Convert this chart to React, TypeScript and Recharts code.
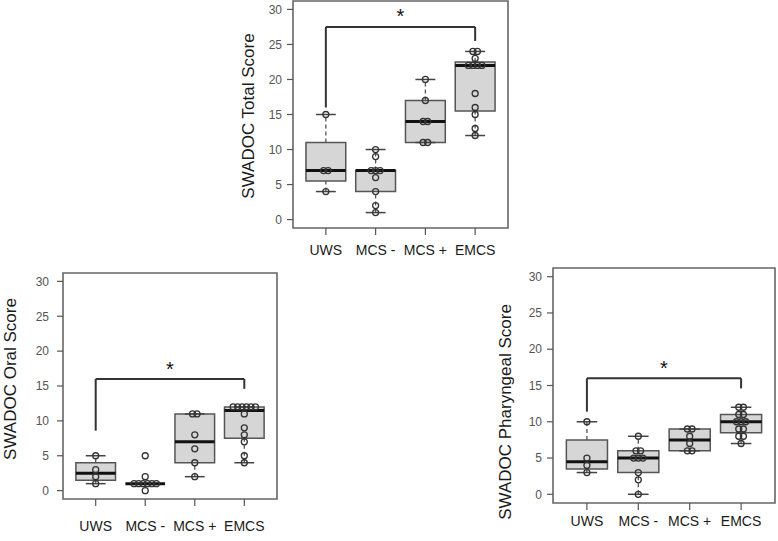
import React from 'react';
import {
  ComposedChart,
  XAxis,
  YAxis,
  Scatter,
  ReferenceArea,
  ReferenceLine,
} from 'recharts';

const GROUPS = ['UWS', 'MCS -', 'MCS +', 'EMCS'];
const Y_TICKS = [0, 5, 10, 15, 20, 25, 30];

// SWADOC total score per group
const totalUWS = [4, 7, 7, 15];
const totalMCSminus = [1, 2, 4, 6, 7, 7, 7, 9, 10];
const totalMCSplus = [11, 11, 14, 14, 17, 20];
const totalEMCS = [12, 13, 15, 16, 18, 22, 22, 22, 22, 23, 24, 24];

// oral score
const oralUWS = [1, 2, 3, 5];
const oralMCSminus = [0, 1, 1, 1, 1, 1, 1, 2, 5];
const oralMCSplus = [2, 4, 6, 8, 11, 11];
const oralEMCS = [4, 5, 7, 8, 9, 11, 12, 12, 12, 12, 12, 12];

// pharyngeal score
const pharUWS = [3, 4, 5, 10];
const pharMCSminus = [0, 2, 3, 5, 5, 5, 6, 6, 8];
const pharMCSplus = [6, 6, 7, 8, 9, 9];
const pharEMCS = [7, 8, 8, 9, 9, 10, 10, 10, 11, 11, 12, 12];

// significance bracket: [left foot, top, right foot], star height
const totalBracket = [16, 27.5, 25.5];
const totalStar = 29.6;
const oralBracket = [8.6, 16, 14.6];
const oralStar = 18;
const pharBracket = [11.4, 16, 14.6];
const pharStar = 18;

const FONT = '"Liberation Sans", Arial, Helvetica, sans-serif';
const X_DOMAIN = [0.34, 4.66];
const Y_DOMAIN = [-1.2, 31.2];

// R-style fivenum (Tukey hinges)
function fivenum(vals: number[]) {
  const s = [...vals].sort((a, b) => a - b);
  const n = s.length;
  const n4 = Math.floor((n + 3) / 2) / 2;
  const d = [1, n4, (n + 1) / 2, n + 1 - n4, n];
  return d.map((v) => 0.5 * (s[Math.floor(v) - 1] + s[Math.ceil(v) - 1]));
}

function boxStats(vals: number[]) {
  const [, q1, med, q3] = fivenum(vals);
  const iqr = q3 - q1;
  const inside = vals.filter((v) => v >= q1 - 1.5 * iqr && v <= q3 + 1.5 * iqr);
  return { q1, med, q3, lo: Math.min(...inside), hi: Math.max(...inside) };
}

// spread tied values sideways so they stay visible
function spreadPoints(groups: number[][]) {
  const pts: { x: number; y: number }[] = [];
  groups.forEach((vals, i) => {
    const counts: Record<number, number> = {};
    vals.forEach((v) => (counts[v] = (counts[v] || 0) + 1));
    const seen: Record<number, number> = {};
    vals.forEach((v) => {
      const k = seen[v] || 0;
      seen[v] = k + 1;
      pts.push({ x: i + 1 + (k - (counts[v] - 1) / 2) * 0.09, y: v });
    });
  });
  return pts;
}

const PointShape = (props: any) => (
  <circle cx={props.cx} cy={props.cy} r={3} fill="none" stroke="#333" strokeWidth={1.3} />
);

const StarShape = (props: any) => (
  <text
    x={props.cx}
    y={props.cy + 11}
    textAnchor="middle"
    fontSize={20}
    fontFamily={FONT}
    fill="#111"
  >
    *
  </text>
);

interface PanelProps {
  data: number[][];
  bracket: number[];
  star: number;
  label: string;
  plot: { x: number; y: number; w: number; h: number };
  labelPos: { x: number; y: number };
  xTickMargin: number;
  yTickMargin: number;
}

const Panel: React.FC<PanelProps> = ({ data, bracket, star, label, plot, labelPos, xTickMargin, yTickMargin }) => {
  const stats = data.map(boxStats);
  const points = spreadPoints(data);
  const W = plot.w + 70;
  const H = plot.h + 60;

  return (
    <>
      <div style={{ position: 'absolute', left: plot.x - 60, top: plot.y - 10 }}>
        <ComposedChart width={W} height={H} margin={{ top: 10, right: 10, bottom: 10, left: 10 }}>
          <XAxis
            type="number"
            dataKey="x"
            domain={X_DOMAIN}
            allowDataOverflow
            ticks={[1, 2, 3, 4]}
            interval={0}
            tickFormatter={(v: number) => GROUPS[v - 1]}
            height={40}
            axisLine={false}
            stroke="#555"
            tickSize={7}
            tickMargin={xTickMargin}
            tickLine={{ stroke: '#555', strokeWidth: 1.2 }}
            tick={{ fontSize: 14, fill: '#1a1a1a', fontFamily: FONT }}
          />
          <YAxis
            type="number"
            dataKey="y"
            domain={Y_DOMAIN}
            allowDataOverflow
            ticks={Y_TICKS}
            interval={0}
            width={50}
            axisLine={false}
            stroke="#555"
            tickSize={6}
            tickMargin={yTickMargin}
            tickLine={{ stroke: '#555', strokeWidth: 1.2 }}
            tick={{ fontSize: 12, fill: '#555', fontFamily: FONT }}
          />
          <ReferenceArea
            x1={X_DOMAIN[0]}
            x2={X_DOMAIN[1]}
            y1={Y_DOMAIN[0]}
            y2={Y_DOMAIN[1]}
            fill="none"
            fillOpacity={0}
            stroke="#666"
            strokeWidth={1.6}
          />
          {stats.map((s, i) => (
            <ReferenceLine
              key={`wu${i}`}
              segment={[{ x: i + 1, y: s.q3 }, { x: i + 1, y: s.hi }]}
              stroke="#555"
              strokeWidth={1.3}
              strokeDasharray="4 3"
            />
          ))}
          {stats.map((s, i) => (
            <ReferenceLine
              key={`wl${i}`}
              segment={[{ x: i + 1, y: s.lo }, { x: i + 1, y: s.q1 }]}
              stroke="#555"
              strokeWidth={1.3}
              strokeDasharray="4 3"
            />
          ))}
          {stats.map((s, i) => (
            <ReferenceLine
              key={`ch${i}`}
              segment={[{ x: i + 0.8, y: s.hi }, { x: i + 1.2, y: s.hi }]}
              stroke="#444"
              strokeWidth={1.5}
            />
          ))}
          {stats.map((s, i) => (
            <ReferenceLine
              key={`cl${i}`}
              segment={[{ x: i + 0.8, y: s.lo }, { x: i + 1.2, y: s.lo }]}
              stroke="#444"
              strokeWidth={1.5}
            />
          ))}
          {stats.map((s, i) => (
            <ReferenceArea
              key={`bx${i}`}
              x1={i + 0.6}
              x2={i + 1.4}
              y1={s.q1}
              y2={s.q3}
              fill="#d6d6d6"
              fillOpacity={1}
              stroke="#555"
              strokeWidth={1.5}
            />
          ))}
          {stats.map((s, i) => (
            <ReferenceLine
              key={`md${i}`}
              segment={[{ x: i + 0.6, y: s.med }, { x: i + 1.4, y: s.med }]}
              stroke="#111"
              strokeWidth={3}
            />
          ))}
          <Scatter data={points} dataKey="y" shape={PointShape} isAnimationActive={false} />
          <ReferenceLine
            segment={[{ x: 1, y: bracket[0] }, { x: 1, y: bracket[1] }]}
            stroke="#333"
            strokeWidth={2}
          />
          <ReferenceLine
            segment={[{ x: 1, y: bracket[1] }, { x: 4, y: bracket[1] }]}
            stroke="#333"
            strokeWidth={2}
          />
          <ReferenceLine
            segment={[{ x: 4, y: bracket[1] }, { x: 4, y: bracket[2] }]}
            stroke="#333"
            strokeWidth={2}
          />
          <Scatter data={[{ x: 2.5, y: star }]} dataKey="y" shape={StarShape} isAnimationActive={false} />
        </ComposedChart>
      </div>
      <div
        style={{
          position: 'absolute',
          left: labelPos.x,
          top: labelPos.y,
          transform: 'translate(-50%, -50%) rotate(-90deg)',
          whiteSpace: 'nowrap',
          fontFamily: FONT,
          fontSize: 17,
          color: '#1a1a1a',
          lineHeight: 1,
        }}
      >
        {label}
      </div>
    </>
  );
};

export default function App() {
  return (
    <div
      style={{
        position: 'absolute',
        left: 0,
        top: 0,
        width: 778,
        height: 541,
        overflow: 'hidden',
        background: '#fff',
      }}
    >
      <Panel
        data={[totalUWS, totalMCSminus, totalMCSplus, totalEMCS]}
        bracket={totalBracket}
        star={totalStar}
        label="SWADOC Total Score"
        plot={{ x: 293, y: 1, w: 215, h: 227 }}
        labelPos={{ x: 248, y: 116 }}
        xTickMargin={10}
        yTickMargin={5}
      />
      <Panel
        data={[oralUWS, oralMCSminus, oralMCSplus, oralEMCS]}
        bracket={oralBracket}
        star={oralStar}
        label="SWADOC Oral Score"
        plot={{ x: 63, y: 273, w: 214, h: 226 }}
        labelPos={{ x: 10, y: 379 }}
        xTickMargin={15}
        yTickMargin={8}
      />
      <Panel
        data={[pharUWS, pharMCSminus, pharMCSplus, pharEMCS]}
        bracket={pharBracket}
        star={pharStar}
        label="SWADOC Pharyngeal Score"
        plot={{ x: 553, y: 268, w: 222, h: 235 }}
        labelPos={{ x: 505, y: 412 }}
        xTickMargin={6}
        yTickMargin={5}
      />
    </div>
  );
}
